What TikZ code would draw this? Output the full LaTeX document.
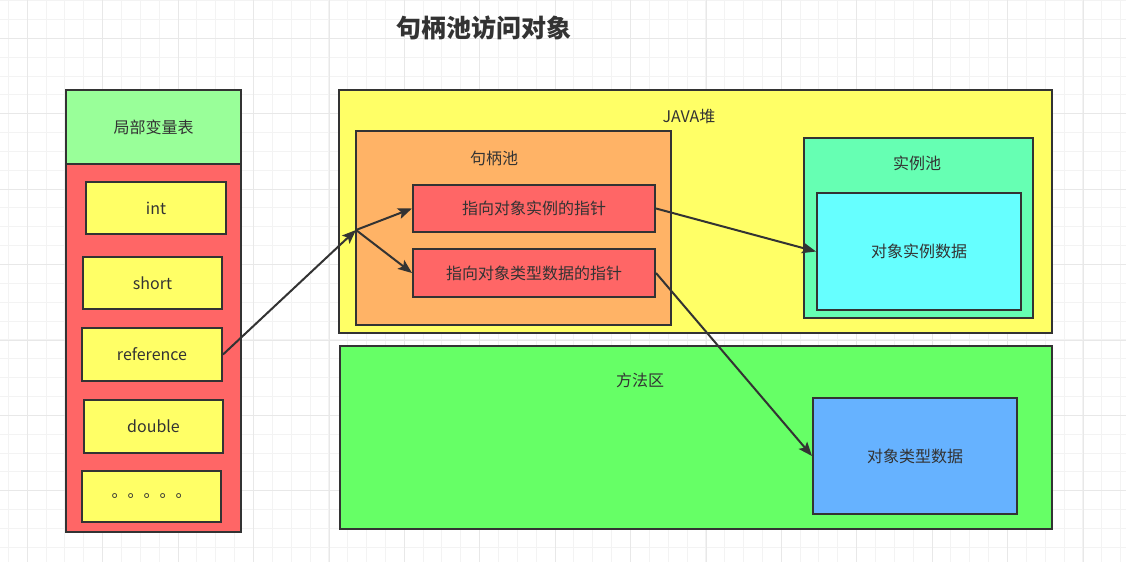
\documentclass[tikz,border=0pt]{standalone}
\usepackage{fontspec}
\setmainfont{Noto Sans CJK SC}
\usetikzlibrary{arrows.meta}
\definecolor{edge}{HTML}{333333}
\definecolor{txt}{HTML}{333333}
\definecolor{cHdr}{HTML}{99FF99}
\definecolor{cRed}{HTML}{FF6666}
\definecolor{cYel}{HTML}{FFFF66}
\definecolor{cOra}{HTML}{FFB366}
\definecolor{cMint}{HTML}{66FFB3}
\definecolor{cCyan}{HTML}{66FFFF}
\definecolor{cGreen}{HTML}{66FF66}
\definecolor{cBlue}{HTML}{66B2FF}
\definecolor{gridminor}{HTML}{F3F3F3}
\definecolor{gridmajor}{HTML}{E8E8E8}
\tikzset{
  box/.style={draw=edge, line width=2pt, inner sep=0pt, text=txt, font=\fontsize{16}{19}\selectfont},
  lbl/.style={text=txt, inner sep=0pt, font=\fontsize{16}{19}\selectfont},
  arr/.style={draw=edge, line width=2pt, -{Stealth[length=14pt,width=11pt,inset=3pt]}},
}
\begin{document}
\begin{tikzpicture}[x=1pt,y=-1pt]
\useasboundingbox (0,0) rectangle (1126,562);
\fill[white] (0,0) rectangle (1126,562);
% grid
\foreach \i in {0,...,60} {
  \pgfmathsetmacro{\gx}{8.3+18.85*\i}
  \draw[gridminor, line width=0.8pt] (\gx,0) -- (\gx,562);
}
\foreach \i in {0,...,30} {
  \pgfmathsetmacro{\gy}{0.5+18.85*\i}
  \draw[gridminor, line width=0.8pt] (0,\gy) -- (1126,\gy);
}
\foreach \i in {0,...,15} {
  \pgfmathsetmacro{\gx}{27.3+75.4*\i}
  \draw[gridmajor, line width=0.8pt] (\gx,0) -- (\gx,562);
}
\foreach \i in {0,...,8} {
  \pgfmathsetmacro{\gy}{38.3+75.4*\i}
  \draw[gridmajor, line width=0.8pt] (0,\gy) -- (1126,\gy);
}
% title
\node[text=txt, font=\fontsize{25}{29}\selectfont\bfseries, inner sep=0pt] (title) at (484,28) {句柄池访问对象};
% local variable table
\node[box, fill=cRed, minimum width=175pt, minimum height=368pt] (body) at (153.5,348) {};
\node[box, fill=cHdr, minimum width=175pt, minimum height=74pt] (hdr) at (153.5,127) {局部变量表};
\node[box, fill=cYel, minimum width=140pt, minimum height=52pt] (int) at (156,208) {int};
\node[box, fill=cYel, minimum width=139pt, minimum height=52pt] (short) at (152.5,283) {short};
\node[box, fill=cYel, minimum width=140pt, minimum height=53pt] (ref) at (152,354.5) {reference};
\node[box, fill=cYel, minimum width=139pt, minimum height=53pt] (dbl) at (153.5,426.5) {double};
\node[box, fill=cYel, minimum width=139pt, minimum height=51pt] (dots) at (151.5,496.5) {。。。。。};
% heap
\node[box, fill=cYel, minimum width=713pt, minimum height=243pt] (heap) at (695.5,211.5) {};
\node[lbl] (heaplbl) at (689,116) {JAVA堆};
\node[box, fill=cOra, minimum width=315pt, minimum height=194pt] (pool) at (513.5,228) {};
\node[lbl] (poollbl) at (494,158) {句柄池};
\node[box, fill=cRed, minimum width=242pt, minimum height=47pt] (p1) at (534,208.5) {指向对象实例的指针};
\node[box, fill=cRed, minimum width=242pt, minimum height=48pt] (p2) at (534,273) {指向对象类型数据的指针};
\node[box, fill=cMint, minimum width=229pt, minimum height=180pt] (inst) at (918.5,228) {};
\node[lbl] (instlbl) at (917,163) {实例池};
\node[box, fill=cCyan, minimum width=204pt, minimum height=117pt] (idata) at (919,251.5) {对象实例数据};
% method area
\node[box, fill=cGreen, minimum width=712pt, minimum height=183pt] (meth) at (696,437.5) {};
\node[lbl] (methlbl) at (640,380) {方法区};
\node[box, fill=cBlue, minimum width=204pt, minimum height=116pt] (tdata) at (915,456) {对象类型数据};
% arrows
\coordinate (j) at (356,230);
\draw[arr] (ref.east) -- (j);
\draw[arr] (j) -- (p1.west);
\draw[arr] (j) -- (p2.west);
\draw[arr] (p1.east) -- (idata.west);
\draw[arr] (p2.east) -- (tdata.west);
\end{tikzpicture}
\end{document}
